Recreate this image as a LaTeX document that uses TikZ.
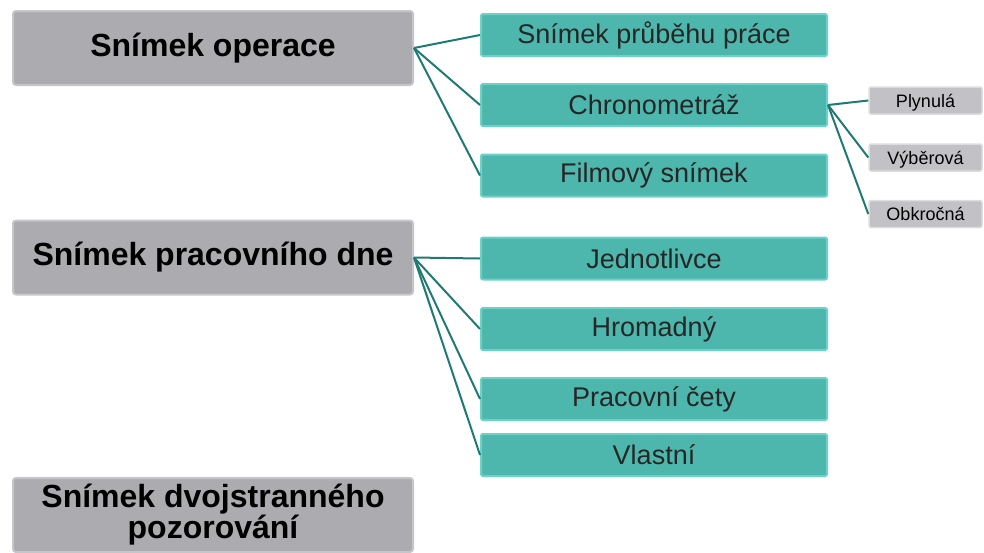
\documentclass[tikz,border=0pt]{standalone}
\usepackage{fontspec}
\setmainfont{Liberation Sans}
\usetikzlibrary{positioning}

\definecolor{boxgray}{HTML}{ABABB0}
\definecolor{edgegray}{HTML}{C6C6CA}
\definecolor{leafgray}{HTML}{C2C2C6}
\definecolor{boxteal}{HTML}{4DB7AD}
\definecolor{edgeteal}{HTML}{6CD2C8}
\definecolor{lineteal}{HTML}{1F7A73}

\begin{document}
\begin{tikzpicture}[x=1pt, y=-1pt,
        main/.style = {draw=edgegray, fill=boxgray, line width=2pt, rounded corners=3pt, minimum width=400pt, minimum height=74pt, inner sep=0pt, align=center, font=\fontsize{32}{31}\selectfont\bfseries},
        sub/.style = {draw=edgeteal, fill=boxteal, line width=2pt, rounded corners=2pt, minimum width=346pt, minimum height=42pt, inner sep=0pt, text=black!85, font=\fontsize{27}{27}\selectfont},
        leaf/.style = {draw=edgegray!60, fill=leafgray, line width=1.5pt, rounded corners=2pt, minimum width=113pt, minimum height=27pt, inner sep=0pt, text depth=0pt, font=\fontsize{18}{18}\selectfont},
        link/.style = {draw=lineteal, line width=2pt}]
        \useasboundingbox (0,0) rectangle (984,552);
        \node[main] (1) at (213,48) {Snímek operace};
        \node[main] (2) at (213,257.5) {Snímek pracovního dne};
        \node[main] (3) at (213,515) {Snímek dvojstranného\\pozorování};
        \node[sub] (4) at (654,35) {Snímek průběhu práce};
        \node[sub] (5) at (654,105) {Chronometráž};
        \node[sub] (6) at (654,175.5) {Filmový snímek};
        \node[sub] (7) at (654,258.5) {Jednotlivce};
        \node[sub] (8) at (654,329) {Hromadný};
        \node[sub] (9) at (654,399) {Pracovní čety};
        \node[sub] (10) at (654,455) {Vlastní};
        \node[leaf] (11) at (925.5,100.5) {Plynulá};
        \node[leaf] (12) at (925.5,157.5) {Výběrová};
        \node[leaf] (13) at (925.5,214) {Obkročná};
        \draw[link] (1.east) -- (4.west);
        \draw[link] (1.east) -- (5.west);
        \draw[link] (1.east) -- (6.west);
        \draw[link] (2.east) -- (7.west);
        \draw[link] (2.east) -- (8.west);
        \draw[link] (2.east) -- (9.west);
        \draw[link] (2.east) -- (10.west);
        \draw[link] (5.east) -- (11.west);
        \draw[link] (5.east) -- (12.west);
        \draw[link] (5.east) -- (13.west);
    \end{tikzpicture}
\end{document}
